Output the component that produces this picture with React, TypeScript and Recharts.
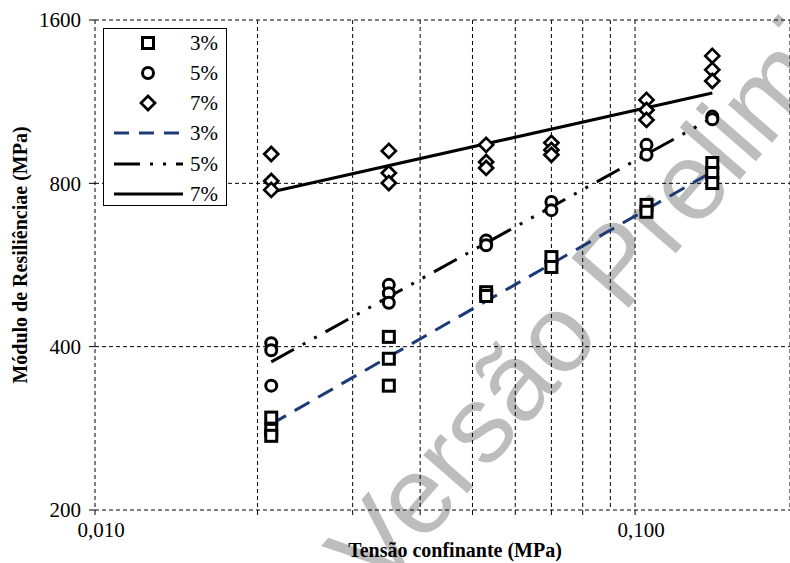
import React from "react";
import { ScatterChart, Scatter, XAxis, YAxis, CartesianGrid, Legend } from "recharts";

// tensão confinante (MPa) / módulo de resiliência (MPa)
const x3 = [0.0212, 0.0212, 0.0212, 0.035, 0.035, 0.035, 0.053, 0.053, 0.07, 0.07, 0.105, 0.105, 0.139, 0.139, 0.139];
const y3 = [296, 281, 274, 417, 380, 339, 504, 496, 585, 561, 730, 709, 872, 836, 801];

const x5 = [0.0212, 0.0212, 0.0212, 0.035, 0.035, 0.035, 0.053, 0.053, 0.07, 0.07, 0.105, 0.105, 0.139, 0.139];
const y5 = [406, 394, 339, 520, 502, 482, 628, 615, 739, 714, 942, 903, 1062, 1050];

const x7 = [0.0212, 0.0212, 0.0212, 0.035, 0.035, 0.035, 0.053, 0.053, 0.053, 0.07, 0.07, 0.07, 0.105, 0.105, 0.105, 0.139, 0.139, 0.139];
const y7 = [906, 808, 778, 918, 836, 801, 942, 876, 854, 950, 922, 903, 1140, 1092, 1047, 1374, 1295, 1235];

// trend lines (power fits), read at both ends
const trendX = [0.0212, 0.139];
const trend3 = [288, 840];
const trend5 = [375, 1056];
const trend7 = [771, 1174];

const xTicks = [0.01, 0.02, 0.03, 0.04, 0.05, 0.06, 0.07, 0.08, 0.09, 0.1];
const xLabeled = [0.01, 0.1];
const yTicks = [200, 400, 800, 1600];

const legendLabels = ["3%", "5%", "7%", "3%", "5%", "7%"];

const NAVY = "#1c3a78";
const DASH = "17 10";
const DASH_DOT_DOT = "26 10 3 10 3 10";
const SERIF = "'Liberation Serif', 'Times New Roman', serif";

const zip = (xs: number[], ys: number[]) => xs.map((x, i) => ({ x, y: ys[i] }));

const Square = (p: any) => (
  <rect x={p.cx - 5.5} y={p.cy - 5.5} width={11} height={11} fill="#fff" stroke="#000" strokeWidth={3} />
);
const Circle = (p: any) => <circle cx={p.cx} cy={p.cy} r={5.5} fill="#fff" stroke="#000" strokeWidth={3} />;
const Diamond = (p: any) => (
  <polygon
    points={`${p.cx},${p.cy - 7} ${p.cx + 7},${p.cy} ${p.cx},${p.cy + 7} ${p.cx - 7},${p.cy}`}
    fill="#fff"
    stroke="#000"
    strokeWidth={2.7}
  />
);
const NoDot = () => <g />;

const fmtX = (v: number) => (xLabeled.includes(v) ? v.toFixed(3).replace(".", ",") : "");

function LegendBox() {
  const rowY = [14, 44, 74, 104, 135, 165];
  return (
    <div style={{ width: 124, height: 178, background: "#fff", border: "1px solid #000", boxSizing: "border-box" }}>
      <svg width={122} height={176}>
        <g transform="translate(-103,-28)">
          <Square cx={147} cy={28 + rowY[0]} />
          <Circle cx={147} cy={28 + rowY[1]} />
          <Diamond cx={147} cy={28 + rowY[2]} />
          <line x1={113} x2={182} y1={28 + rowY[3]} y2={28 + rowY[3]} stroke={NAVY} strokeWidth={3} strokeDasharray="15 10" />
          <line x1={113} x2={182} y1={28 + rowY[4]} y2={28 + rowY[4]} stroke="#000" strokeWidth={3} strokeDasharray={DASH_DOT_DOT} />
          <line x1={113} x2={182} y1={28 + rowY[5]} y2={28 + rowY[5]} stroke="#000" strokeWidth={3} />
          {legendLabels.map((t, i) => (
            <text key={i} x={189} y={28 + rowY[i] + 7} fontFamily={SERIF} fontSize={21} fill="#000">
              {t}
            </text>
          ))}
        </g>
      </svg>
    </div>
  );
}

export default function App() {
  return (
    <div style={{ position: "relative", width: 790, height: 563, overflow: "hidden" }}>
      <style>{`body{margin:0;overflow:hidden}`}</style>
      {/* watermark sits behind the chart */}
      <svg width={790} height={563} style={{ position: "absolute", left: 0, top: 0 }}>
        <text
          x={378}
          y={596}
          transform="rotate(-49 378 596)"
          fontFamily="'Liberation Sans', Arial, sans-serif"
          fontSize={110}
          fill="#bdbdbd"
        >
          Versão Preliminar
        </text>
      </svg>
      <div style={{ position: "absolute", left: 0, top: 0 }}>
        <ScatterChart width={790} height={563} margin={{ top: 20, right: 0, bottom: 0, left: 0 }}>
          <CartesianGrid stroke="#000" strokeDasharray="4 3" strokeWidth={1} />
          <XAxis
            type="number"
            dataKey="x"
            scale="log"
            domain={[0.01, 0.1936]}
            allowDataOverflow
            ticks={xTicks}
            tickFormatter={fmtX}
            height={53}
            axisLine={false}
            tickLine={{ stroke: "#000" }}
            tickSize={5}
            tickMargin={7}
            tick={{ fill: "#000", fontFamily: SERIF, fontSize: 21, dx: 6 }}
            label={{
              content: () => (
                <text x={455} y={557} textAnchor="middle" fontFamily={SERIF} fontWeight="bold" fontSize={20} fill="#000">
                  Tensão confinante (MPa)
                </text>
              ),
            }}
          />
          <YAxis
            type="number"
            dataKey="y"
            scale="log"
            domain={[200, 1600]}
            allowDataOverflow
            ticks={yTicks}
            width={95}
            axisLine={false}
            tickLine={{ stroke: "#000" }}
            tickSize={6}
            tickMargin={8}
            tick={{ fill: "#000", fontFamily: SERIF, fontSize: 21 }}
            label={{
              content: () => (
                <text
                  x={27}
                  y={255}
                  transform="rotate(-90 27 255)"
                  textAnchor="middle"
                  fontFamily={SERIF}
                  fontWeight="bold"
                  fontSize={20}
                  fill="#000"
                >
                  Módulo de Resiliênciae (MPa)
                </text>
              ),
            }}
          />
          <Legend
            layout="horizontal"
            verticalAlign="middle"
            align="center"
            content={() => <LegendBox />}
            wrapperStyle={{ position: "absolute", left: 103, top: 28, width: 124, height: 178 }}
          />
          <Scatter data={zip(trendX, trend3)} line={{ stroke: NAVY, strokeWidth: 3, strokeDasharray: DASH }} shape={NoDot} isAnimationActive={false} />
          <Scatter data={zip(trendX, trend5)} line={{ stroke: "#000", strokeWidth: 3, strokeDasharray: DASH_DOT_DOT }} shape={NoDot} isAnimationActive={false} />
          <Scatter data={zip(trendX, trend7)} line={{ stroke: "#000", strokeWidth: 3 }} shape={NoDot} isAnimationActive={false} />
          <Scatter data={zip(x3, y3)} shape={Square} isAnimationActive={false} />
          <Scatter data={zip(x5, y5)} shape={Circle} isAnimationActive={false} />
          <Scatter data={zip(x7, y7)} shape={Diamond} isAnimationActive={false} />
        </ScatterChart>
      </div>
    </div>
  );
}
